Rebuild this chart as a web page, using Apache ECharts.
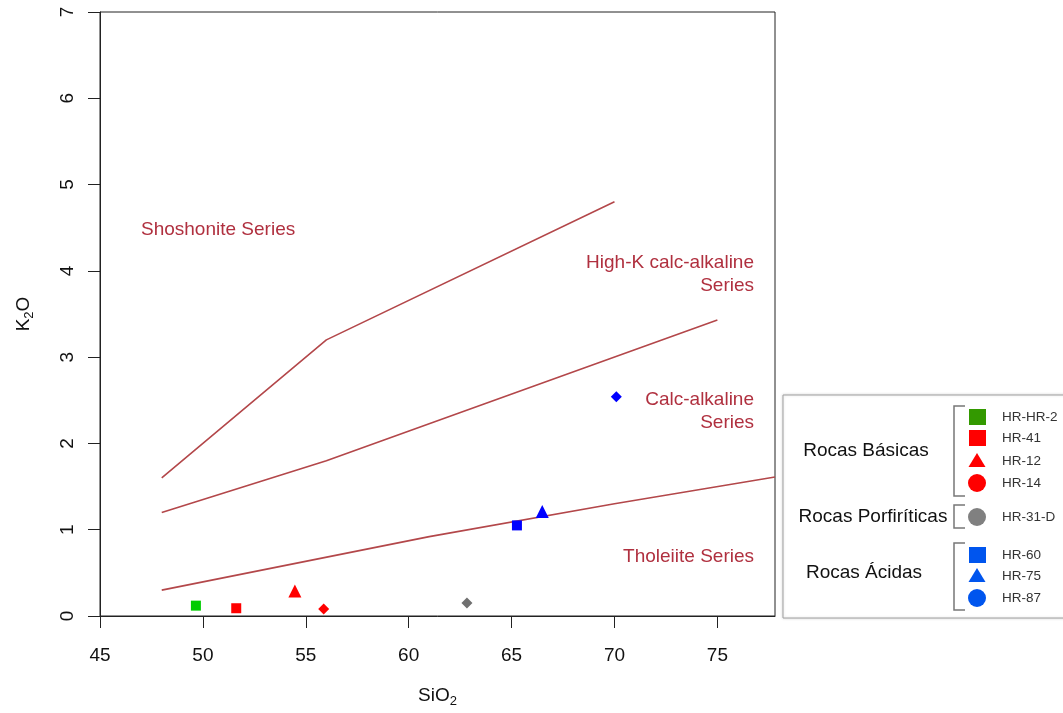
<!DOCTYPE html>
<html>
<head>
<meta charset="utf-8">
<script src="https://cdn.jsdelivr.net/npm/echarts@6/dist/echarts.min.js"></script>
<style>
  html, body { margin: 0; padding: 0; background: #fff; }
  #chart { width: 1063px; height: 713px; }
</style>
</head>
<body>
<div id="chart"></div>
<script>
// samples
const samples = ['HR-HR-2', 'HR-41', 'HR-12', 'HR-14', 'HR-31-D', 'HR-60', 'HR-75', 'HR-87']
const sio2 = [49.66, 51.62, 54.47, 55.87, 62.83, 65.26, 66.49, 70.09]
const k2o = [0.12, 0.09, 0.29, 0.08, 0.15, 1.05, 1.21, 2.54]
const plotColors = ['#00cc00', '#ff0000', '#ff0000', '#ff0000', '#707070', '#0000ff', '#0000ff', '#0000ff']
const legendColors = ['#339900', '#ff0000', '#ff0000', '#ff0000', '#808080', '#0055ee', '#0055ee', '#0055ee']
const plotSymbols = ['rect', 'rect', 'triangle', 'diamond', 'diamond', 'rect', 'triangle', 'diamond']
const legendSymbols = ['rect', 'rect', 'triangle', 'circle', 'circle', 'rect', 'triangle', 'circle']
const groups = ['Rocas Básicas', 'Rocas Porfiríticas', 'Rocas Ácidas']

// boundary lines
const shoX = [48, 56, 70]
const shoY = [1.6, 3.2, 4.8]
const hkX = [48, 56, 75]
const hkY = [1.2, 1.8, 3.43]
const caX = [48, 61, 70, 77.8]
const caY = [0.3, 0.92, 1.3, 1.61]
const xTicks = [45, 50, 55, 60, 65, 70, 75]

const lineColor = '#b3474a'
const textColor = '#b0303f'
const font = 'Liberation Sans, Arial, sans-serif'

const chart = echarts.init(document.getElementById('chart'))

const zip = (xs, ys) => xs.map((x, i) => [x, ys[i]])

const boundary = (name, xs, ys) => ({
  name,
  type: 'line',
  data: zip(xs, ys),
  symbol: 'none',
  silent: true,
  lineStyle: { color: lineColor, width: 1.6 },
  z: 2
})

const symSize = { rect: 10, triangle: 13, diamond: 11 }

const sampleSeries = samples.map((s, i) => ({
  name: s,
  type: 'scatter',
  data: [[sio2[i], k2o[i]]],
  symbol: plotSymbols[i],
  symbolSize: symSize[plotSymbols[i]],
  itemStyle: { color: plotColors[i], opacity: 1 },
  z: 3
}))

// legend drawn by hand (grouped with brackets)
const legendY = [417, 438, 461, 483, 517, 555, 576, 598]
const legendEls = [
  {
    type: 'rect',
    shape: { x: 783, y: 395, width: 290, height: 223 },
    style: { fill: '#fff', stroke: '#a0a0a0', lineWidth: 1, shadowColor: 'rgba(0,0,0,0.15)', shadowBlur: 3 }
  }
]
const groupPos = [
  { x: 866, y: 451, top: 406, bottom: 496 },
  { x: 873, y: 517, top: 505, bottom: 528 },
  { x: 864, y: 573, top: 543, bottom: 610 }
]
groups.forEach((g, gi) => {
  const p = groupPos[gi]
  legendEls.push({
    type: 'text',
    x: p.x, y: p.y,
    style: { text: g, font: '19px ' + font, fill: '#111', align: 'center', verticalAlign: 'middle' }
  })
  legendEls.push({
    type: 'polyline',
    shape: { points: [[965, p.top], [954, p.top], [954, p.bottom], [965, p.bottom]] },
    style: { stroke: '#777', lineWidth: 1.5, fill: null }
  })
})
samples.forEach((s, i) => {
  const sym = legendSymbols[i]
  const cy = legendY[i]
  if (sym === 'rect') {
    legendEls.push({ type: 'rect', shape: { x: 969, y: cy - 8, width: 17, height: 16 }, style: { fill: legendColors[i] } })
  } else if (sym === 'triangle') {
    legendEls.push({ type: 'polygon', shape: { points: [[977, cy - 8], [985.5, cy + 6], [968.5, cy + 6]] }, style: { fill: legendColors[i] } })
  } else {
    legendEls.push({ type: 'circle', shape: { cx: 977, cy: cy, r: 9 }, style: { fill: legendColors[i] } })
  }
  legendEls.push({
    type: 'text',
    x: 1002, y: cy,
    style: { text: s, font: '13.5px ' + font, fill: '#333', verticalAlign: 'middle' }
  })
})

const seriesLabels = [
  { x: 141, y: 230, text: 'Shoshonite Series', align: 'left' },
  { x: 754, y: 274.5, text: 'High-K calc-alkaline\nSeries', align: 'right' },
  { x: 754, y: 411.5, text: 'Calc-alkaline\nSeries', align: 'right' },
  { x: 754, y: 557, text: 'Tholeiite Series', align: 'right' }
].map((l) => ({
  type: 'text',
  x: l.x, y: l.y,
  z: 5,
  style: {
    text: l.text, font: '19px ' + font, fill: textColor,
    align: l.align, verticalAlign: 'middle', lineHeight: 23
  }
}))

const nameRich = {
  a: { fontSize: 19, color: '#111', fontFamily: font },
  s: { fontSize: 13, color: '#111', fontFamily: font, padding: [11, 0, 0, 0] }
}

const option = {
  animation: false,
  backgroundColor: '#fff',
  textStyle: { fontFamily: font },
  grid: {
    left: 100, right: 288, top: 12, bottom: 96,
    show: true, borderColor: '#222', borderWidth: 1, backgroundColor: '#fff'
  },
  xAxis: {
    type: 'value',
    min: 45, max: 77.8, interval: 5,
    name: '{a|SiO}{s|2}',
    nameLocation: 'middle',
    nameGap: 68,
    nameTextStyle: { rich: nameRich },
    splitLine: { show: false },
    axisLine: { onZero: false, lineStyle: { color: '#222', width: 1 } },
    axisTick: { inside: false, length: 12, lineStyle: { color: '#222' }, customValues: xTicks },
    axisLabel: { margin: 30, fontSize: 19, color: '#111', customValues: xTicks }
  },
  yAxis: {
    type: 'value',
    min: 0, max: 7, interval: 1,
    name: '{a|K}{s|2}{a|O}',
    nameLocation: 'middle',
    nameGap: 64,
    nameRotate: 90,
    nameTextStyle: { rich: nameRich },
    splitLine: { show: false },
    axisLine: { onZero: false, lineStyle: { color: '#222', width: 1 } },
    axisTick: { inside: false, length: 12, lineStyle: { color: '#222' } },
    axisLabel: { margin: 23, fontSize: 19, color: '#111', rotate: 90 }
  },
  series: [
    boundary('Shoshonite / High-K', shoX, shoY),
    boundary('High-K / Calc-alkaline', hkX, hkY),
    boundary('Calc-alkaline / Tholeiite', caX, caY),
    ...sampleSeries
  ],
  graphic: [...seriesLabels, ...legendEls]
}

chart.setOption(option)
</script>
</body>
</html>
